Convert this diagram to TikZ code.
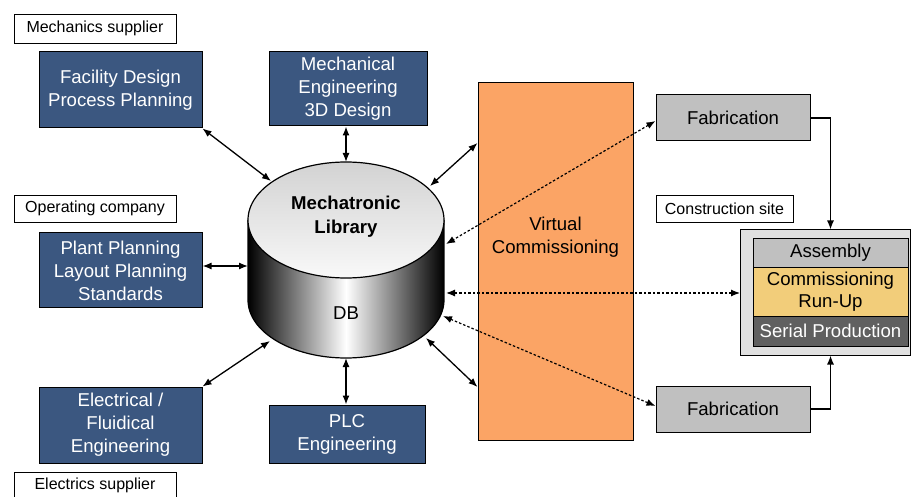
\documentclass[tikz,border=0pt]{standalone}
\usepackage{fontspec}
\setmainfont{Liberation Sans}
\usetikzlibrary{arrows.meta}
\definecolor{boxblue}{HTML}{3B5780}
\definecolor{vcorange}{HTML}{FBA465}
\definecolor{fabgray}{HTML}{C0C0C0}
\definecolor{outergray}{HTML}{E0E0E0}
\definecolor{comyellow}{HTML}{F2CD7A}
\definecolor{serialgray}{HTML}{606060}
\tikzset{
  bluebox/.style={draw=black, line width=1pt, fill=boxblue, text=white, align=center, inner sep=0pt,
    font=\fontsize{18.6}{23}\selectfont},
  tagbox/.style={draw=black, line width=0.8pt, fill=white, inner sep=0pt, font=\fontsize{16}{18}\selectfont},
  graybox/.style={draw=black, line width=1pt, fill=fabgray, inner sep=0pt, font=\fontsize{18.6}{23}\selectfont},
  stagebox/.style={draw=black, line width=0.6pt, inner sep=0pt, minimum width=155, align=center,
    font=\fontsize{18.6}{22}\selectfont},
  dbl/.style={{Latex[length=9pt,width=7pt]}-{Latex[length=9pt,width=7pt]}, line width=1.3pt},
  dotdbl/.style={{Latex[length=9pt,width=7pt]}-{Latex[length=9pt,width=7pt]}, line width=1.2pt, dash pattern=on 2.5pt off 2pt},
  onearrow/.style={-{Latex[length=9pt,width=7pt]}, line width=1.3pt},
}
\begin{document}
\begin{tikzpicture}[x=1pt,y=-1pt]
\useasboundingbox (0,0) rectangle (911,497);
\fill[white] (0,0) rectangle (911,497);

% tags
\node[tagbox, minimum width=162, minimum height=29] (mechsup) at (95,28.5) {Mechanics supplier};
\node[tagbox, minimum width=162, minimum height=27] (opco) at (95,208.5) {Operating company};
\node[tagbox, minimum width=162, minimum height=25] (elecsup) at (95,485) {Electrics supplier};
\node[tagbox, minimum width=137, minimum height=27] (consite) at (724.5,208.5) {Construction site};

% blue boxes
\node[bluebox, minimum width=163, minimum height=76] (facility) at (120.5,90) {Facility Design\\Process Planning};
\node[bluebox, minimum width=158, minimum height=74] (mecheng) at (348,89) {Mechanical\\Engineering\\3D Design};
\node[bluebox, minimum width=163, minimum height=75] (plant) at (120.5,270.5) {Plant Planning\\Layout Planning\\Standards};
\node[bluebox, minimum width=163, minimum height=76] (electrical) at (120.5,425) {Electrical /\\Fluidical\\Engineering};
\node[bluebox, minimum width=156, minimum height=58] (plc) at (347,434) {PLC\\Engineering};

% virtual commissioning
\node[draw=black, line width=1pt, fill=vcorange, minimum width=155, minimum height=357, inner sep=0pt] (vc) at (555.5,261.5) {};
\node[align=center, font=\fontsize{18.6}{23}\selectfont] (vctext) at (555.5,237) {Virtual\\Commissioning};

% fabrication
\node[graybox, minimum width=154, minimum height=46] (fab1) at (733,118) {Fabrication};
\node[graybox, minimum width=154, minimum height=46] (fab2) at (733,409) {Fabrication};

% construction site stack
\node[draw=black, line width=1pt, fill=outergray, minimum width=170, minimum height=125, inner sep=0pt] (outer) at (825.5,292.5) {};
\node[stagebox, fill=fabgray, minimum height=29] (asm) at (830.5,252.5) {Assembly};
\node[stagebox, fill=comyellow, minimum height=49] (com) at (830.5,291.5) {Commissioning\\Run-Up};
\node[stagebox, fill=serialgray, text=white, minimum height=30] (ser) at (830.5,331) {Serial Production};

% cylinder
\shade[left color=black, right color=black, middle color=white]
  (248,220) -- (248,300) arc[start angle=180, end angle=360, x radius=98pt, y radius=58pt] -- (444,220) -- cycle;
\draw[line width=1.2pt] (248,220) -- (248,300) arc[start angle=180, end angle=360, x radius=98pt, y radius=58pt] -- (444,220);
\shade[top color=gray!35, bottom color=gray!5, draw=black, line width=1.2pt] (346,220) ellipse [x radius=98pt, y radius=58pt];
\node[align=center, font=\fontsize{18.6}{24}\selectfont\bfseries] (libtext) at (346,217) {Mechatronic\\Library};
\node[font=\fontsize{18.6}{22}\selectfont] (dbtext) at (346,313) {DB};

% connection points on the cylinder
\coordinate (cNW) at (271,181);
\coordinate (cN) at (346,162);
\coordinate (cNE) at (430,186);
\coordinate (cE1) at (446,244);
\coordinate (cW) at (248,266);
\coordinate (cE2) at (446,293);
\coordinate (cE3) at (443,316);
\coordinate (cSE) at (426,338);
\coordinate (cSW) at (270,341);
\coordinate (cS) at (346,358);

% solid connectors
\draw[dbl] (facility.south east) -- (cNW);
\draw[dbl] (mecheng.south -| cN) -- (cN);
\draw[dbl] (plant.east |- cW) -- (cW);
\draw[dbl] (electrical.north east) -- (cSW);
\draw[dbl] (plc.north -| cS) -- (cS);
\draw[dbl] (vc.west |- 0,143) -- (cNE);
\draw[dbl] (vc.west |- 0,387) -- (cSE);

% dotted connectors
\draw[dotdbl] (fab1.west |- 0,121) -- (cE1);
\draw[dotdbl] (outer.west |- cE2) -- (cE2);
\draw[dotdbl] (fab2.west |- 0,406) -- (cE3);

% fabrication to site
\draw[onearrow] (fab1.east) -| (asm.north |- outer.north);
\draw[onearrow] (fab2.east) -| (asm.north |- outer.south);
\end{tikzpicture}
\end{document}
